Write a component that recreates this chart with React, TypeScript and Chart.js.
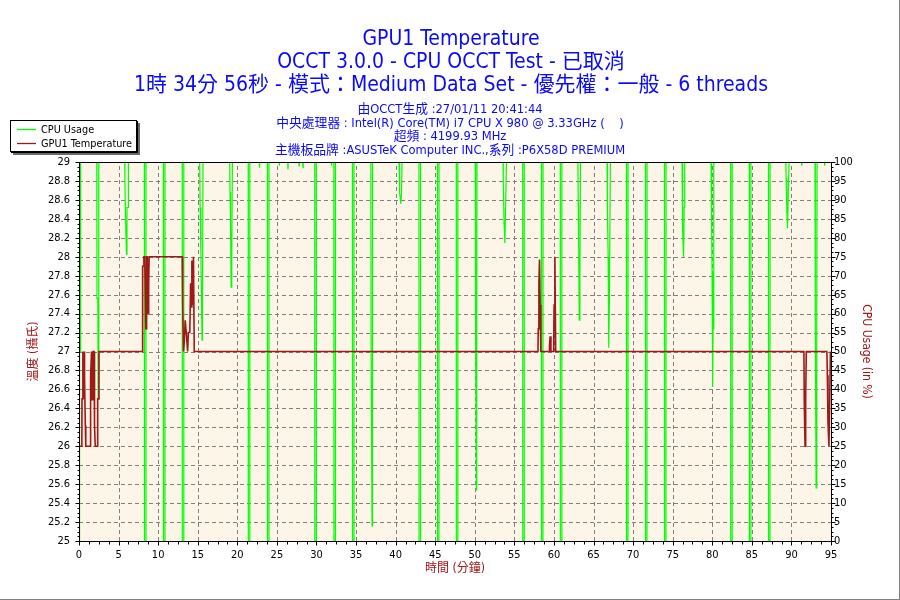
import React, { useEffect, useRef } from "react";
import { Chart, registerables } from "chart.js";

Chart.register(...registerables);

// ---------- text ----------
const titleLines = [
  "GPU1 Temperature",
  "OCCT 3.0.0 - CPU OCCT Test - 已取消",
  "1時 34分 56秒 - 模式：Medium Data Set - 優先權：一般 - 6 threads",
];
const infoLines = [
  "由OCCT生成 :27/01/11 20:41:44",
  "中央處理器 : Intel(R) Core(TM) i7 CPU X 980 @ 3.33GHz (    )",
  "超頻 : 4199.93 MHz",
  "主機板品牌 :ASUSTeK Computer INC.,系列 :P6X58D PREMIUM",
];
const seriesNames = ["CPU Usage", "GPU1 Temperature"];
const xTitle = "時間 (分鐘)";
const yTitle = "溫度 (攝氏)";
const y1Title = "CPU Usage (in %)";

// ---------- ticks ----------
const timeTicks = [0, 5, 10, 15, 20, 25, 30, 35, 40, 45, 50, 55, 60, 65, 70, 75, 80, 85, 90, 95];
const tempTicks = [25, 25.2, 25.4, 25.6, 25.8, 26, 26.2, 26.4, 26.6, 26.8, 27, 27.2, 27.4, 27.6, 27.8, 28, 28.2, 28.4, 28.6, 28.8, 29];
const cpuTicks = [0, 5, 10, 15, 20, 25, 30, 35, 40, 45, 50, 55, 60, 65, 70, 75, 80, 85, 90, 95, 100];

// ---------- CPU usage (%) ----------
const cpuTime = [
  0, 0.02, 0.12, 0.17, 0.2,
  2.25, 2.27, 2.38, 2.42, 2.5,
  5.78, 5.8, 5.92, 6.0, 6.06, 6.2, 6.24,
  8.26, 8.27, 8.45, 8.46,
  10.66, 10.67, 10.85, 10.86,
  13.04, 13.05, 13.23, 13.24,
  15.25, 15.3, 15.4, 15.46, 15.55, 15.6, 15.67,
  19.04, 19.08, 19.15, 19.22, 19.3, 19.38,
  21.38, 21.39, 21.57, 21.58,
  22.77, 22.8, 22.83,
  23.8, 23.81, 23.99, 24.0,
  25.27, 25.3, 25.33,
  26.37, 26.4, 26.43,
  27.77, 27.8, 27.83,
  28.27, 28.3, 28.33,
  29.78, 29.79, 29.97, 29.98,
  31.87, 31.9, 31.93,
  32.2, 32.21, 32.39, 32.4,
  34.54, 34.55, 34.73, 34.74,
  36.87, 36.9, 37.0, 37.02, 37.08,
  40.43, 40.46, 40.55, 40.65, 40.75, 40.81,
  42.95, 42.96, 43.14, 43.15,
  45.28, 45.29, 45.47, 45.48,
  47.66, 47.67, 47.85, 47.86,
  50.06, 50.1, 50.2, 50.24, 50.28,
  53.57, 53.6, 53.7, 53.8, 53.9, 54.0,
  56.05, 56.06, 56.24, 56.25,
  58.42, 58.43, 58.61, 58.62,
  60.8, 60.81, 60.99, 61.0,
  63.03, 63.06, 63.12, 63.2, 63.28, 63.35,
  66.71, 66.75, 66.85, 66.92, 67.0, 67.13,
  69.16, 69.17, 69.35, 69.36,
  71.56, 71.57, 71.75, 71.76,
  73.96, 73.97, 74.15, 74.16,
  76.18, 76.22, 76.3, 76.38, 76.45, 76.52,
  79.85, 79.9, 79.98, 80.05, 80.1, 80.19,
  82.32, 82.33, 82.51, 82.52,
  84.68, 84.69, 84.87, 84.88,
  87.1, 87.11, 87.29, 87.3,
  89.29, 89.33, 89.42, 89.5, 89.6, 89.7,
  91.27, 91.3, 91.33,
  92.98, 93.02, 93.12, 93.2, 93.24,
  94.17, 94.2, 94.23,
  94.93,
];
const cpuUsage = [
  0, 100, 100, 50, 100,
  100, 64, 64, 37.6, 100,
  100, 94, 81.6, 75.7, 88, 88, 100,
  100, 0, 0, 100,
  100, 0, 0, 100,
  100, 0, 0, 100,
  100, 88, 76, 65, 53, 65, 100,
  100, 92, 83.6, 67, 75.5, 100,
  100, 0, 0, 100,
  100, 98.5, 100,
  100, 0, 0, 100,
  100, 99, 100,
  100, 98, 100,
  100, 99, 100,
  100, 98.5, 100,
  100, 0, 0, 100,
  100, 99, 100,
  100, 0, 0, 100,
  100, 0, 0, 100,
  100, 52, 52, 4, 100,
  100, 97, 92, 89, 92, 100,
  100, 0, 0, 100,
  100, 0, 0, 100,
  100, 0, 0, 100,
  100, 56.8, 13.5, 56.8, 100,
  100, 94.7, 84, 78.6, 89, 100,
  100, 0, 0, 100,
  100, 0, 0, 100,
  100, 0, 0, 100,
  100, 89.5, 79, 58.3, 68.6, 100,
  100, 87.8, 75, 51, 63, 100,
  100, 0, 0, 100,
  100, 0, 0, 100,
  100, 0, 0, 100,
  100, 93.8, 81.5, 75, 88, 100,
  100, 85.6, 70.6, 40.7, 56, 100,
  100, 0, 0, 100,
  100, 0, 0, 100,
  100, 0, 0, 100,
  100, 95.7, 87, 82.5, 91, 100,
  100, 99, 100,
  100, 56, 14, 56, 100,
  100, 99, 100,
  100,
];

// ---------- GPU1 temperature (°C) ----------
const tempTime = [
  0, 0.36, 0.38, 0.48, 0.5, 0.53, 0.6, 0.66, 0.7, 0.8, 0.86,
  1.4, 1.43, 1.5, 1.58, 1.62, 1.74, 1.78, 1.9, 1.96, 2.05,
  2.3, 2.36, 2.46, 2.52,
  7.96, 7.99, 8.05, 8.07, 8.16, 8.2, 8.3, 8.36, 8.44, 8.5, 8.54, 8.6, 8.64, 8.72, 8.8, 8.86,
  13.04, 13.1, 13.2, 13.3, 13.42, 13.55, 13.72, 13.82, 14.0, 14.1, 14.18, 14.26, 14.36, 14.46, 14.56,
  57.98, 58.02, 58.1, 58.18, 58.26, 58.34,
  59.4, 59.44, 59.52, 59.62, 59.96, 60.02, 60.12, 60.22,
  91.58, 91.62, 91.72, 91.8, 91.88,
  94.48, 94.54, 94.62, 94.74, 94.84, 94.93,
];
const tempValue = [
  26, 26, 26.5, 26.5, 27, 26.5, 26.5, 27, 26.72, 26.22, 26,
  26, 26.22, 26.73, 27, 26.49, 26.49, 27, 27, 26.22, 26,
  26, 26.5, 26.5, 27,
  27, 27.44, 27.44, 27.9, 27.9, 28, 28, 27.74, 27.24, 27.24, 28, 28, 27.49, 27.4, 27.7, 28,
  28, 27.49, 27, 27.1, 27.33, 27.2, 27, 27.2, 27.2, 27.72, 27.47, 27.96, 27.49, 28, 27,
  27, 27.24, 27.73, 27.97, 27.49, 27,
  27, 27.06, 27.16, 27, 27, 27.49, 28, 27,
  27, 26.49, 26, 26.49, 27,
  27, 26.75, 26.25, 26, 26.5, 27,
];

const FONT = '"DejaVu Sans Condensed", "Liberation Sans", "Noto Sans CJK TC", sans-serif';
const BLUE = "#0A0AF5";
const DARKRED = "#A01818";
const GREEN = "#00FF00";
const PLOT_BG = "#FDF6E8";

const decorPlugin = {
  id: "decor",
  beforeDraw(chart: any) {
    const { ctx, chartArea: a, width, height } = chart;
    ctx.save();
    ctx.fillStyle = "#ffffff";
    ctx.fillRect(0, 0, width, height);
    ctx.fillStyle = PLOT_BG;
    ctx.fillRect(a.left, a.top, a.right - a.left, a.bottom - a.top);
    ctx.fillStyle = "#808080";
    ctx.fillRect(width - 1, 0, 1, height);
    ctx.fillRect(0, height - 1, width, 1);
    ctx.restore();
  },
  beforeDatasetsDraw(chart: any) {
    const { ctx, chartArea: a, scales } = chart;
    ctx.save();
    ctx.strokeStyle = "#808080";
    ctx.lineWidth = 1;
    ctx.setLineDash([4, 3]);
    for (const v of tempTicks.slice(1, -1)) {
      const y = Math.round(scales.y.getPixelForValue(v)) + 0.5;
      ctx.beginPath();
      ctx.moveTo(a.left, y);
      ctx.lineTo(a.right, y);
      ctx.stroke();
    }
    for (const v of timeTicks.slice(1)) {
      const x = Math.round(scales.x.getPixelForValue(v)) + 0.5;
      if (x >= a.right - 1) continue;
      ctx.beginPath();
      ctx.moveTo(x, a.bottom);
      ctx.lineTo(x, a.top);
      ctx.stroke();
    }
    ctx.restore();
  },
  afterDatasetsDraw(chart: any) {
    const { ctx, chartArea: a, scales } = chart;
    ctx.save();
    ctx.strokeStyle = "#000";
    ctx.lineWidth = 1;
    ctx.setLineDash([]);
    const L = Math.round(a.left) + 0.5;
    const R = Math.round(a.right) + 0.5;
    const T = Math.round(a.top) + 0.5;
    const B = Math.round(a.bottom) + 0.5;
    ctx.strokeRect(L, T, R - L, B - T);
    ctx.beginPath();
    const tStep = (timeTicks[1] - timeTicks[0]) / 4;
    for (let k = 0; k <= (timeTicks.length - 1) * 4; k++) {
      const v = timeTicks[0] + k * tStep;
      const x = Math.round(scales.x.getPixelForValue(v)) + 0.5;
      const len = k % 4 === 0 ? 4 : 3;
      ctx.moveTo(x, B);
      ctx.lineTo(x, B + len);
    }
    const yStep = (tempTicks[1] - tempTicks[0]) / 4;
    for (let k = 0; k <= (tempTicks.length - 1) * 4; k++) {
      const v = tempTicks[0] + k * yStep;
      const y = Math.round(scales.y.getPixelForValue(v)) + 0.5;
      const len = k % 4 === 0 ? 4 : 2;
      ctx.moveTo(L, y);
      ctx.lineTo(L - len, y);
    }
    const cStep = (cpuTicks[1] - cpuTicks[0]) / 4;
    for (let k = 0; k <= (cpuTicks.length - 1) * 4; k++) {
      const v = cpuTicks[0] + k * cStep;
      const y = Math.round(scales.y1.getPixelForValue(v)) + 0.5;
      const len = k % 4 === 0 ? 4 : 2;
      ctx.moveTo(R, y);
      ctx.lineTo(R + len, y);
    }
    ctx.stroke();
    ctx.restore();
  },
  afterDraw(chart: any) {
    const { ctx } = chart;
    ctx.save();
    ctx.textAlign = "center";
    ctx.textBaseline = "alphabetic";
    ctx.fillStyle = BLUE;
    ctx.font = `21px ${FONT}`;
    const tY = [45, 68, 91];
    titleLines.forEach((s, i) => ctx.fillText(s, 451, tY[i]));
    ctx.font = `12.8px ${FONT}`;
    const iY = [113, 126.5, 140, 153.5];
    infoLines.forEach((s, i) => ctx.fillText(s, 450, iY[i]));

    // legend
    ctx.fillStyle = "#6a6a6a";
    ctx.fillRect(13, 123, 127, 32);
    ctx.fillStyle = "#ffffff";
    ctx.fillRect(10, 120, 127, 32);
    ctx.strokeStyle = "#000";
    ctx.lineWidth = 1;
    ctx.strokeRect(10.5, 120.5, 126, 31);
    ctx.beginPath();
    ctx.moveTo(137.5, 121);
    ctx.lineTo(137.5, 152.5);
    ctx.lineTo(11, 152.5);
    ctx.stroke();
    const colors = [GREEN, DARKRED];
    const ly = [129.5, 143.5];
    ctx.textAlign = "left";
    ctx.textBaseline = "middle";
    ctx.font = `10.8px ${FONT}`;
    seriesNames.forEach((n, i) => {
      ctx.strokeStyle = colors[i];
      ctx.lineWidth = 1.3;
      ctx.beginPath();
      ctx.moveTo(17, ly[i]);
      ctx.lineTo(36, ly[i]);
      ctx.stroke();
      ctx.fillStyle = "#000";
      ctx.fillText(n, 41, ly[i] + 0.5);
    });
    ctx.restore();
  },
};

export default function App() {
  const ref = useRef<HTMLCanvasElement | null>(null);
  useEffect(() => {
    if (!ref.current) return;
    const tempData = tempTime.map((t, i) => ({ x: t, y: tempValue[i] }));
    const cpuData = cpuTime.map((t, i) => ({ x: t, y: cpuUsage[i] }));
    const tickFont = { family: FONT, size: 11 };
    const titleFont = { family: FONT, size: 12 };
    const chart = new Chart(ref.current, {
      type: "line",
      data: {
        datasets: [
          {
            label: seriesNames[1],
            data: tempData,
            yAxisID: "y",
            borderColor: DARKRED,
            borderWidth: 1.6,
            pointRadius: 0,
            tension: 0,
            fill: false,
          },
          {
            label: seriesNames[0],
            data: cpuData,
            yAxisID: "y1",
            borderColor: GREEN,
            borderWidth: 1.2,
            pointRadius: 0,
            tension: 0,
            fill: false,
          },
        ],
      },
      options: {
        responsive: false,
        devicePixelRatio: 1,
        animation: false,
        layout: { padding: { top: 162, left: 0, right: 0, bottom: 0 } },
        plugins: {
          legend: { display: false },
          title: { display: false },
          tooltip: { enabled: false },
        },
        scales: {
          x: {
            type: "linear",
            min: 0,
            max: 95,
            afterBuildTicks: (s: any) => {
              s.ticks = timeTicks.map((v) => ({ value: v }));
            },
            ticks: {
              font: tickFont,
              color: "#000",
              padding: 8,
              maxRotation: 0,
              autoSkip: false,
              callback: (v: any) => String(v),
            },
            grid: { display: false, drawTicks: false },
            border: { display: false },
            title: {
              display: true,
              text: xTitle,
              color: DARKRED,
              font: titleFont,
              padding: { top: 0, bottom: 24 },
            },
            afterFit: (s: any) => {
              s.height = 59;
            },
          },
          y: {
            type: "linear",
            position: "left",
            min: 25,
            max: 29,
            afterBuildTicks: (s: any) => {
              s.ticks = tempTicks.map((v) => ({ value: v }));
            },
            ticks: {
              font: tickFont,
              color: "#000",
              padding: 9,
              autoSkip: false,
              callback: (v: any) => String(Math.round(v * 10) / 10),
            },
            grid: { display: false, drawTicks: false },
            border: { display: false },
            title: {
              display: true,
              text: yTitle,
              color: DARKRED,
              font: titleFont,
              padding: { top: 27, bottom: 0 },
            },
            afterFit: (s: any) => {
              s.width = 79;
            },
          },
          y1: {
            type: "linear",
            position: "right",
            min: 0,
            max: 100,
            afterBuildTicks: (s: any) => {
              s.ticks = cpuTicks.map((v) => ({ value: v }));
            },
            ticks: {
              font: tickFont,
              color: "#000",
              padding: 3,
              autoSkip: false,
              callback: (v: any) => String(v),
            },
            grid: { display: false, drawTicks: false },
            border: { display: false },
            title: {
              display: true,
              text: y1Title,
              color: DARKRED,
              font: titleFont,
              padding: { top: 27, bottom: 0 },
            },
            afterFit: (s: any) => {
              s.width = 69;
            },
          },
        },
      },
      plugins: [decorPlugin],
    } as any);
    return () => chart.destroy();
  }, []);
  return (
    <div style={{ position: "fixed", left: 0, top: 0, width: 900, height: 600, background: "#fff" }}>
      <canvas ref={ref} width={900} height={600} style={{ display: "block", width: 900, height: 600 }} />
    </div>
  );
}
